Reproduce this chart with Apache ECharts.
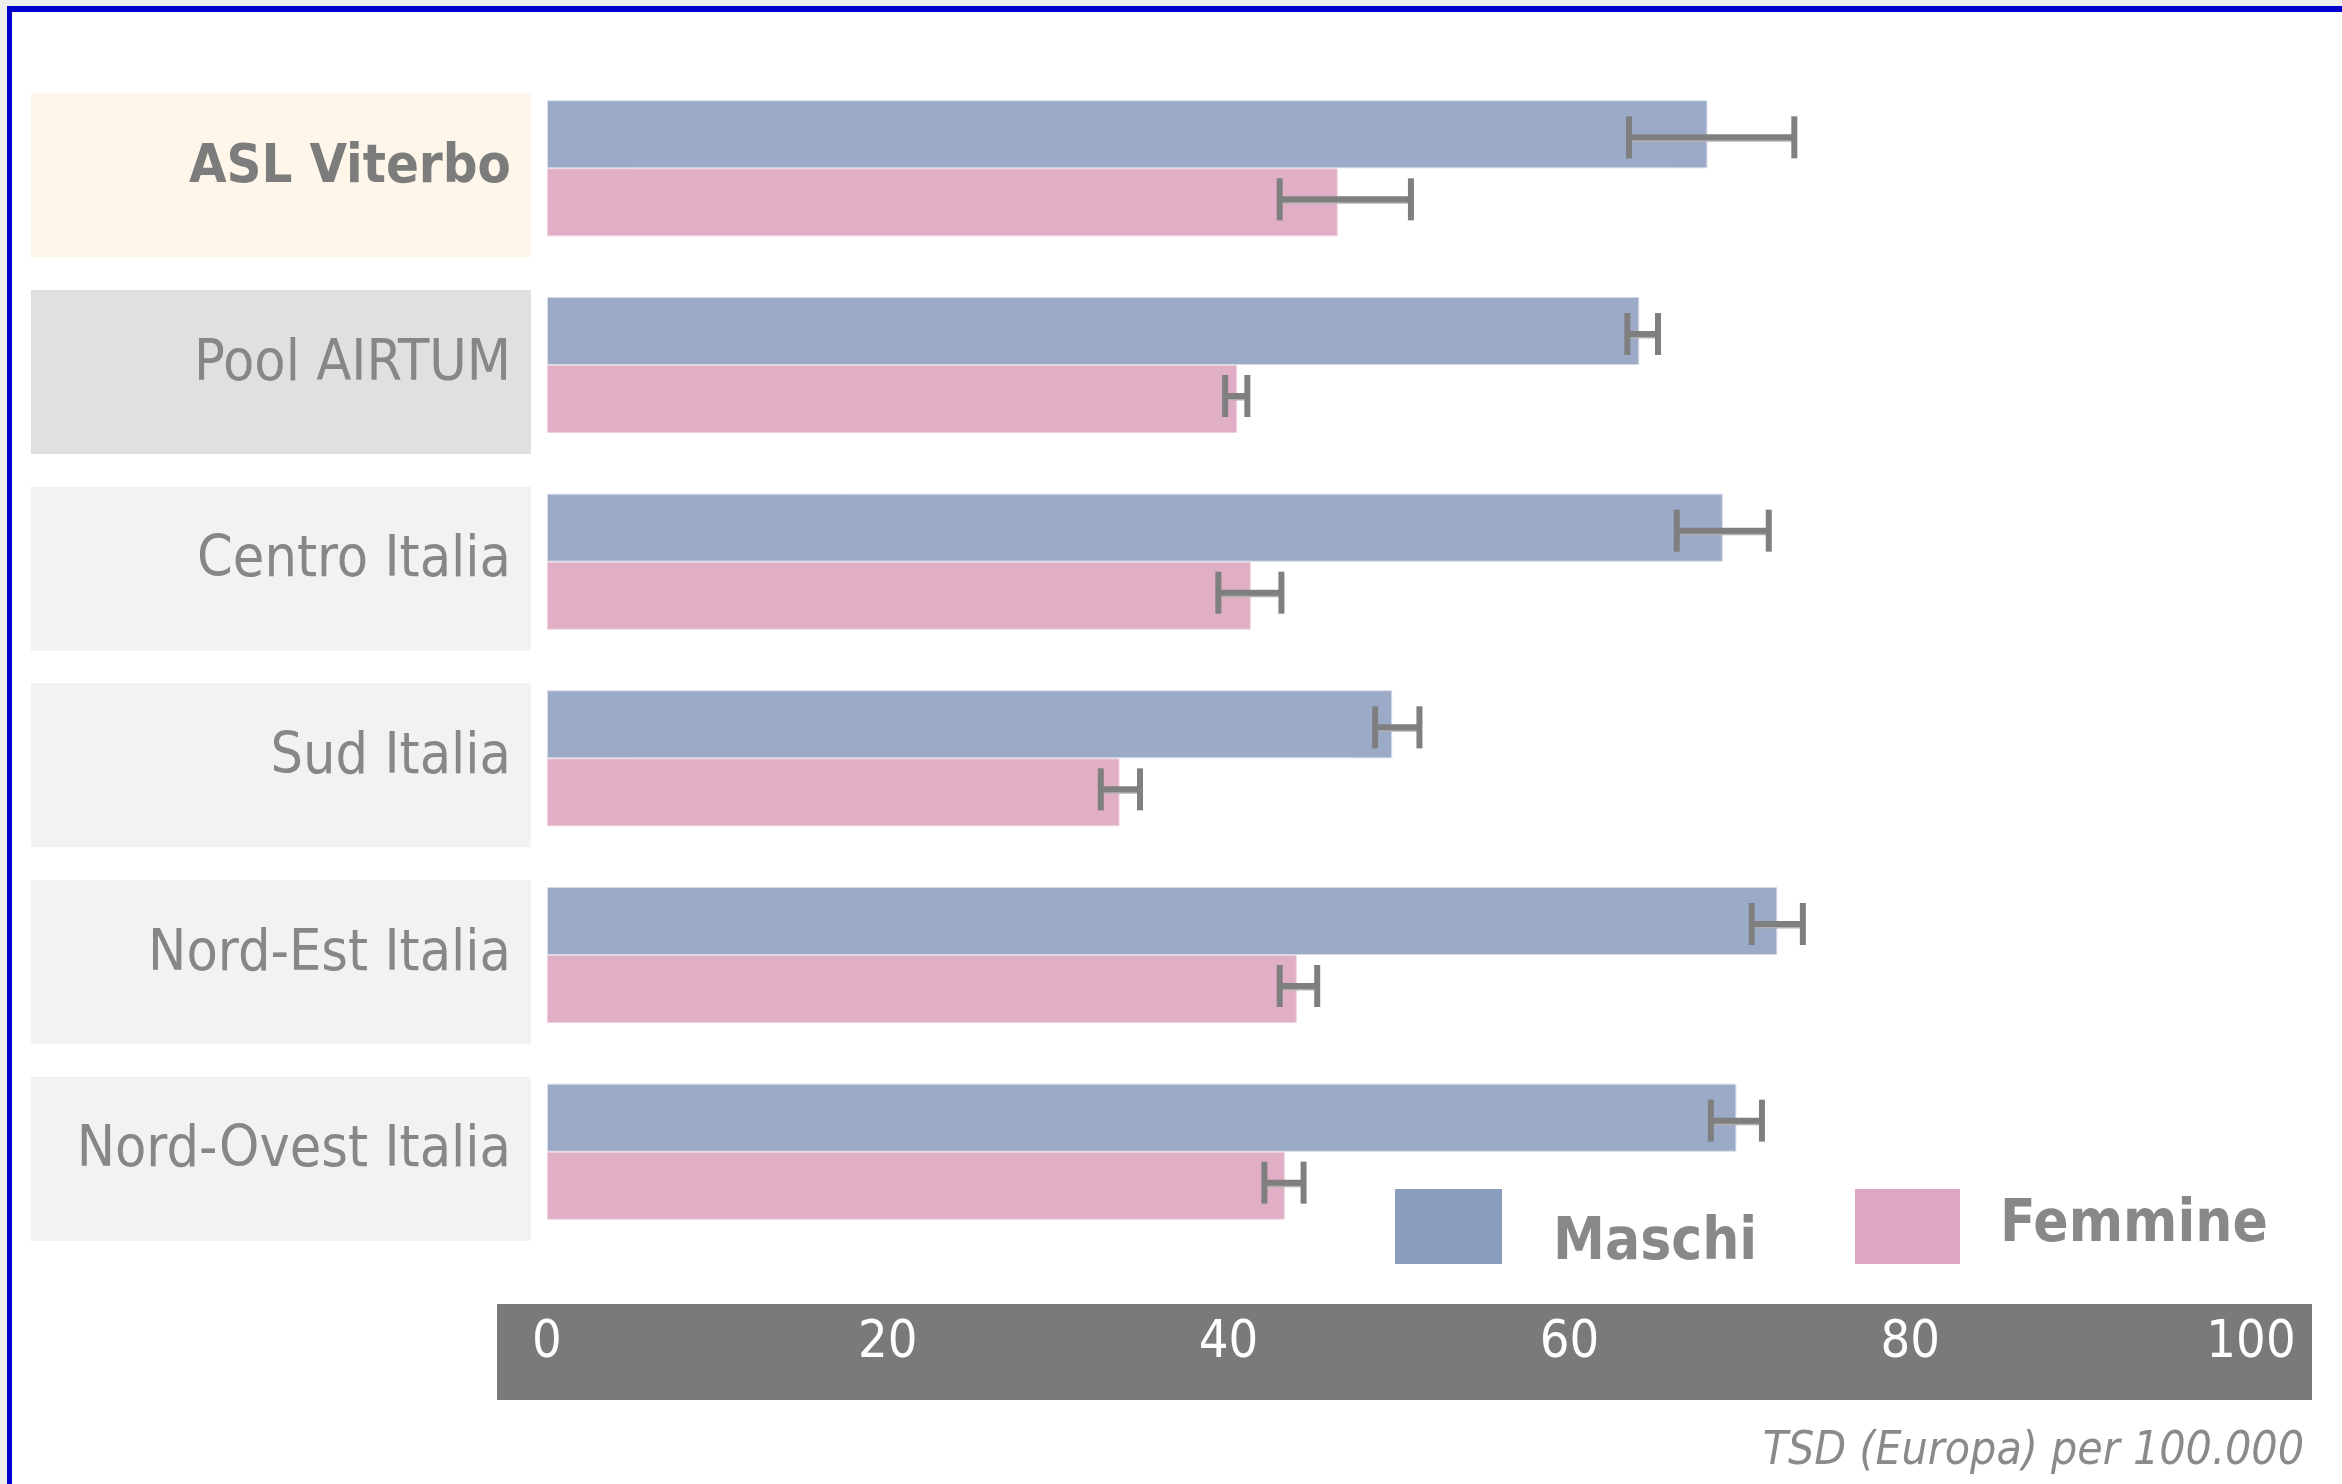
<!DOCTYPE html>
<html>
    <head>
        <meta charset="utf-8">
        <title>TSD per area</title>
        <script src="https://cdn.jsdelivr.net/npm/echarts@6/dist/echarts.min.js"></script>
        <style>
            body { margin: 0; background: #efefef; }
            #frame { position: absolute; left: 7px; top: 6px; right: 0; bottom: 0; background: #fff;
                     border-left: 5px solid #0000cc; border-top: 6px solid #0000cc; }
            #main { position: absolute; left: 0; top: 0; width: 2342px; height: 1484px; }
        </style>
    </head>
    <body>
        <div id="frame"></div>
        <div id="main"></div>
        <script type="text/javascript">
            // dati
            var categories = ['ASL Viterbo', 'Pool AIRTUM', 'Centro Italia', 'Sud Italia', 'Nord-Est Italia', 'Nord-Ovest Italia'];
            var maschi      = [68.1, 64.1, 69.0, 49.6, 72.2, 69.8];
            var maschiLow   = [63.5, 63.4, 66.3, 48.6, 70.7, 68.3];
            var maschiHigh  = [73.2, 65.2, 71.7, 51.2, 73.7, 71.3];
            var femmine     = [46.4, 40.5, 41.3, 33.6, 44.0, 43.3];
            var femmineLow  = [43.0, 39.8, 39.4, 32.5, 43.0, 42.1];
            var femmineHigh = [50.7, 41.1, 43.1, 34.8, 45.2, 44.4];
            var xTicks = [0, 20, 40, 60, 80, 100];

            var FONT = '"Liberation Sans Narrow", "DejaVu Sans Condensed", sans-serif';
            var BAR_W = 68;

            var myChart = echarts.init(document.getElementById('main'));

            function errData(low, high) {
                var out = [];
                for (var i = 0; i < low.length; i++) {
                    out.push([low[i], high[i], i]);
                }
                return out;
            }

            // barre d'errore a forma di "H"
            function errRender(sign) {
                return function (params, api) {
                    var a = api.coord([api.value(0), api.value(2)]);
                    var b = api.coord([api.value(1), api.value(2)]);
                    var y = a[1] + sign * (BAR_W / 2 - 3);
                    var h = 21;
                    var st = { stroke: '#7f7f7f', lineWidth: 6 };
                    return {
                        type: 'group',
                        children: [
                            { type: 'line', shape: { x1: a[0], y1: y + 3, x2: b[0], y2: y + 3 }, style: { stroke: '#b0b0b0', lineWidth: 3 } },
                            { type: 'line', shape: { x1: a[0], y1: y, x2: b[0], y2: y }, style: st },
                            { type: 'line', shape: { x1: a[0], y1: y - h, x2: a[0], y2: y + h }, style: st },
                            { type: 'line', shape: { x1: b[0], y1: y - h, x2: b[0], y2: y + h }, style: st }
                        ]
                    };
                };
            }

            var boxStyle = function (bg, bold) {
                return {
                    backgroundColor: bg,
                    width: 480,
                    height: 150,
                    padding: [0, 20, 14, 0],
                    align: 'right',
                    fontFamily: FONT,
                    fontSize: bold ? 54 : 57,
                    fontWeight: bold ? 'bold' : 'normal',
                    color: bold ? '#7c7c7c' : '#878787'
                };
            };

            var legendText = function (pad) {
                return { fontFamily: FONT, fontWeight: 'bold', fontSize: 58, color: '#888', padding: pad };
            };

            var option = {
                animation: false,
                title: {
                    text: 'TSD (Europa) per 100.000',
                    right: 33,
                    top: 1424,
                    textStyle: { fontFamily: FONT, fontStyle: 'italic', fontWeight: 'normal', fontSize: 46, color: '#8a8a8a' }
                },
                legend: [
                    {
                        data: [{ name: 'Maschi', itemStyle: { color: '#8a9dbf', borderWidth: 0 } }],
                        left: 1390, top: 1184, icon: 'rect', itemWidth: 107, itemHeight: 75,
                        formatter: '{t|{name}}',
                        textStyle: { rich: { t: legendText([34, 0, 0, 46]) } }
                    },
                    {
                        data: [{ name: 'Femmine', itemStyle: { color: '#dea6c2', borderWidth: 0 } }],
                        left: 1850, top: 1184, icon: 'rect', itemWidth: 105, itemHeight: 75,
                        formatter: '{t|{name}}',
                        textStyle: { rich: { t: legendText([0, 0, 2, 35]) } }
                    }
                ],
                graphic: [
                    { type: 'rect', z: 0, shape: { x: 497, y: 1304, width: 1815, height: 96 }, style: { fill: '#7a7a7a' } }
                ],
                grid: { left: 547, top: 70, width: 1704, height: 1180, containLabel: false, outerBoundsMode: 'none' },
                xAxis: {
                    type: 'value', min: 0, max: 100, interval: 20, z: 10,
                    axisLine: { show: false }, axisTick: { show: false }, splitLine: { show: false },
                    axisLabel: {
                        margin: 93, verticalAlign: 'middle', color: '#ffffff', fontFamily: FONT, fontSize: 52,
                        customValues: xTicks
                    }
                },
                yAxis: {
                    type: 'category', inverse: true, data: categories,
                    axisLine: { show: false }, axisTick: { show: false },
                    axisLabel: {
                        interval: 0, margin: 16, padding: [14, 0, 0, 0],
                        formatter: function (value, idx) {
                            var key = idx === 0 ? 'hl' : (idx === 1 ? 'pool' : 'reg');
                            return '{' + key + '|' + value + '}';
                        },
                        rich: {
                            hl: boxStyle('#fdf6e9', true),
                            pool: boxStyle('#e0e0e0', false),
                            reg: boxStyle('#f2f2f2', false)
                        }
                    }
                },
                series: [
                    { name: 'Maschi', type: 'bar', data: maschi, barWidth: BAR_W, barGap: '0%',
                      itemStyle: { color: '#9aaac7', borderColor: '#d6dbe8', borderWidth: 1 } },
                    { name: 'Femmine', type: 'bar', data: femmine, barWidth: BAR_W, barGap: '0%',
                      itemStyle: { color: '#e0afc5', borderColor: '#eed3df', borderWidth: 1 } },
                    { type: 'custom', data: errData(maschiLow, maschiHigh), encode: { x: [0, 1], y: 2 }, renderItem: errRender(-1), z: 5 },
                    { type: 'custom', data: errData(femmineLow, femmineHigh), encode: { x: [0, 1], y: 2 }, renderItem: errRender(1), z: 5 }
                ]
            };

            myChart.setOption(option);
        </script>
    </body>
</html>
